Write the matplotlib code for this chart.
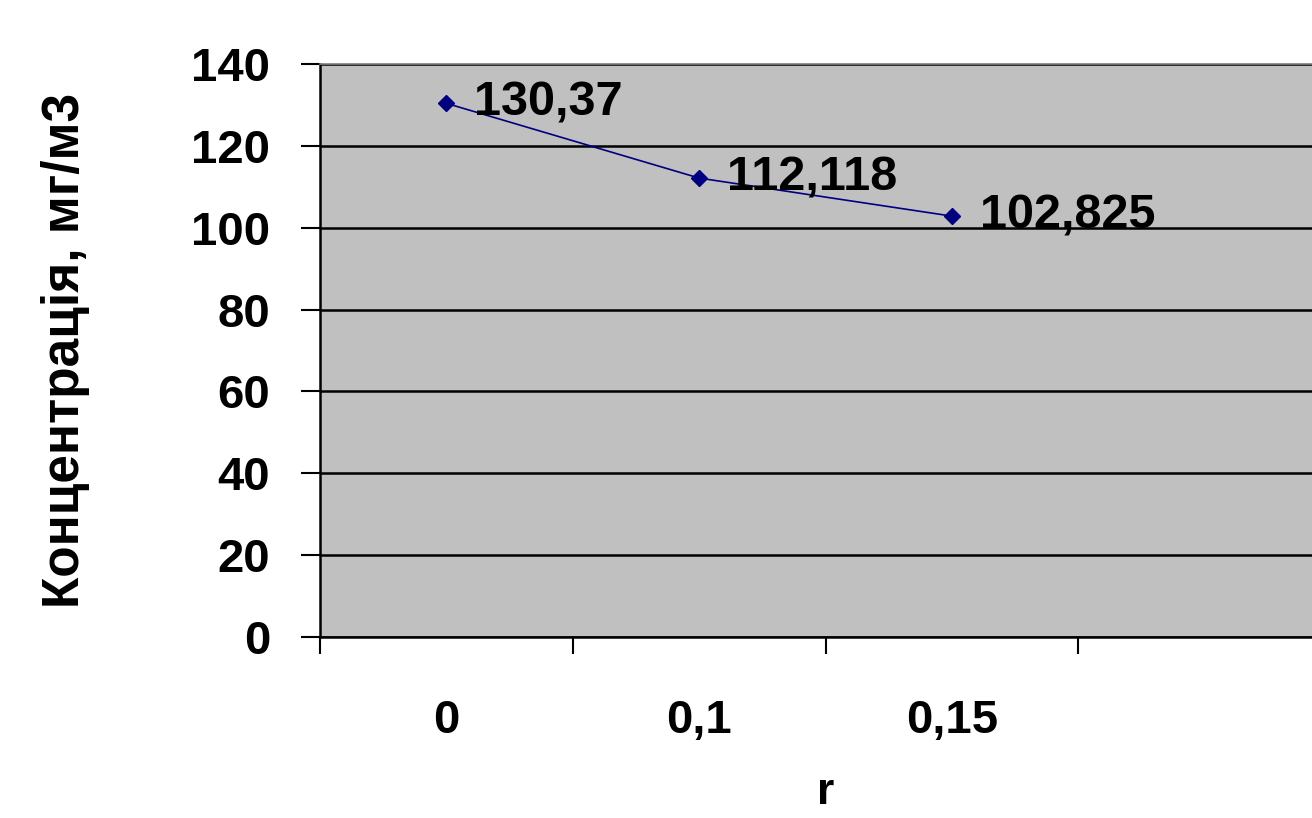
import matplotlib.pyplot as plt
import numpy as np

# дані
r_labels = ['0', '0,1', '0,15']
conc = [130.37, 112.118, 102.825]
conc_labels = ['130,37', '112,118', '102,825']
y_ticks = [0, 20, 40, 60, 80, 100, 120, 140]

plt.rcParams['font.family'] = ['Liberation Sans', 'DejaVu Sans']
plt.rcParams['font.weight'] = 'bold'

fig = plt.figure(figsize=(13.12, 8.18), dpi=100)
ax = fig.add_axes([0.244, 0.2213, 0.7705, 0.7005])
ax.set_facecolor('#c0c0c0')

x = np.arange(len(conc))
ax.plot(x, conc, color='#000080', lw=1.2, marker='D', ms=8, zorder=3)
for xi, yi, t in zip(x, conc, conc_labels):
    ax.annotate(t, (xi, yi), xytext=(20, 0), textcoords='offset points',
                va='center', ha='left', fontsize=35, fontweight='bold', zorder=4)

ax.set_xlim(-0.5, 3.5)
ax.set_ylim(0, 140)
ax.set_yticks(y_ticks)
ax.set_yticklabels([str(v) for v in y_ticks])
ax.yaxis.grid(True, color='black', lw=1.8)
ax.set_axisbelow(True)

# поділки між категоріями, підписи по центру
ax.set_xticks(np.arange(-0.5, 4.0, 1.0))
ax.set_xticklabels([])
ax.set_xticks(x, minor=True)
ax.set_xticklabels(r_labels, minor=True)
ax.tick_params(axis='x', which='major', length=12, width=1.5, direction='out')
ax.tick_params(axis='x', which='minor', length=0, pad=45, labelsize=34)
ax.tick_params(axis='y', length=14, width=1.5, direction='out', pad=22, labelsize=34)

for s in ['left', 'bottom']:
    ax.spines[s].set_color('black')
    ax.spines[s].set_linewidth(1.8)
ax.spines['top'].set_color('#808080')
ax.spines['top'].set_linewidth(1.2)
ax.spines['right'].set_visible(False)

ax.set_ylabel('Концентрація, мг/м3', fontsize=37, fontweight='bold')
ax.yaxis.set_label_coords(-0.228, 0.5)
ax.set_xlabel('r', fontsize=32, fontweight='bold')
ax.xaxis.set_label_coords(0.5, -0.235)

plt.savefig('out.png', dpi=100)
